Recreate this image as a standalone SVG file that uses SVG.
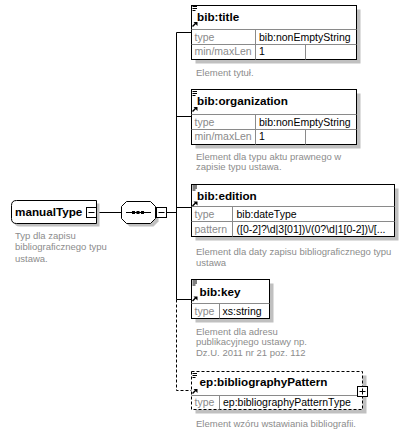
<svg xmlns="http://www.w3.org/2000/svg" width="407" height="432" viewBox="0 0 407 432">
  <defs>
    <style>
      text { font-family: "Liberation Sans", Arial, sans-serif; }
      .name { font-size: 11.7px; font-weight: bold; fill: #000; }
      .lbl { font-size: 10.5px; fill: #8a8a8a; }
      .val { font-size: 10.5px; fill: #000; }
      .doc { font-size: 9.5px; fill: #8c8c8c; }
      .box { fill: #fff; stroke: #000; stroke-width: 1; }
      .dbox { fill: #fff; stroke: #000; stroke-width: 1; stroke-dasharray: 3 2; }
      .shadow { fill: #c0c0c0; }
      .grid { stroke: #8a8a8a; stroke-width: 1; fill: none; }
      .conn { stroke: #000; stroke-width: 1; fill: none; }
      .dash { stroke: #000; stroke-width: 1; fill: none; stroke-dasharray: 3 2; }
      .tog { fill: #fff; stroke: #000; stroke-width: 1; }
    </style>
    <!-- element icons: annotation lines and global-reference arrow -->
    <g id="elemIcons">
      <path d="M1.5,1.5 H6 M1.5,3.5 H6 M1.5,5.5 H4.5" stroke="#000" stroke-width="1" fill="none"/>
      <path d="M1.5,21.5 L5,18" stroke="#000" stroke-width="1.5" fill="none"/>
      <path d="M2.5,17 H6.5 V21 Z" fill="#000"/>
    </g>
  </defs>

  <!-- connectors -->
  <g id="connectors">
    <path class="conn" d="M96.5,212.5 H121.5"/>
    <path class="conn" d="M166.5,212.5 H176.5"/>
    <path class="conn" d="M176.5,32.5 V299.5"/>
    <path class="conn" d="M176.5,32.5 H191.5"/>
    <path class="conn" d="M176.5,116.5 H191.5"/>
    <path class="conn" d="M176.5,207.5 H191.5"/>
    <path class="conn" d="M176.5,299.5 H191.5"/>
    <path class="dash" d="M176.5,299.5 V390.5 H191.5"/>
  </g>

  <!-- complex type -->
  <g id="manualType">
    <path class="shadow" d="M19.5,203.5 H99.5 V226.5 H19.5 Q14.5,226.5 14.5,221.5 V208.5 Q14.5,203.5 19.5,203.5 Z"/>
    <path class="box" d="M16.5,200.5 H96.5 V223.5 H16.5 Q11.5,223.5 11.5,218.5 V205.5 Q11.5,200.5 16.5,200.5 Z"/>
    <text class="name" x="15" y="216">manualType</text>
    <rect class="tog" x="86.5" y="207.5" width="10" height="10"/>
    <path class="conn" d="M88.5,212.5 H94.5"/>
    <text class="doc" x="15" y="238.5">Typ dla zapisu</text>
    <text class="doc" x="15" y="250">bibliograficznego typu</text>
    <text class="doc" x="15" y="261.5">ustawa.</text>
  </g>

  <!-- sequence compositor -->
  <g id="sequence">
    <path class="shadow" d="M129.5,204.5 H153.5 L158.5,209.5 V221.5 L153.5,226.5 H129.5 L124.5,221.5 V209.5 Z"/>
    <path class="box" d="M126.5,201.5 H150.5 L155.5,206.5 V218.5 L150.5,223.5 H126.5 L121.5,218.5 V206.5 Z"/>
    <path class="conn" d="M126,212.5 H151"/>
    <rect x="132" y="211" width="3" height="3" fill="#000"/>
    <rect x="136.5" y="211" width="3" height="3" fill="#000"/>
    <rect x="141" y="211" width="3" height="3" fill="#000"/>
    <rect class="tog" x="156.5" y="207.5" width="10" height="10"/>
    <path class="conn" d="M158.5,212.5 H164.5"/>
  </g>

  <!-- bib:title -->
  <g id="bib-title">
    <rect class="shadow" x="195.5" y="9.5" width="165" height="54"/>
    <rect class="box" x="191.5" y="5.5" width="165" height="54"/>
    <path class="grid" d="M191.5,29.5 H356.5 M191.5,44.5 H356.5 M255.5,29.5 V59.5 M305.5,44.5 V59.5"/>
    <use href="#elemIcons" x="191" y="5"/>
    <text class="name" x="197" y="21">bib:title</text>
    <text class="lbl" x="194.5" y="40.5">type</text>
    <text class="val" x="259" y="40.5">bib:nonEmptyString</text>
    <text class="lbl" x="194.5" y="55">min/maxLen</text>
    <text class="val" x="259" y="55">1</text>
    <text class="doc" x="196" y="75.5">Element tytuł.</text>
  </g>

  <!-- bib:organization -->
  <g id="bib-organization">
    <rect class="shadow" x="195.5" y="93.5" width="165" height="55"/>
    <rect class="box" x="191.5" y="89.5" width="165" height="55"/>
    <path class="grid" d="M191.5,114.5 H356.5 M191.5,129.5 H356.5 M255.5,114.5 V144.5 M305.5,129.5 V144.5"/>
    <use href="#elemIcons" x="191" y="90"/>
    <text class="name" x="197" y="105">bib:organization</text>
    <text class="lbl" x="194.5" y="125.5">type</text>
    <text class="val" x="259" y="125.5">bib:nonEmptyString</text>
    <text class="lbl" x="194.5" y="140">min/maxLen</text>
    <text class="val" x="259" y="140">1</text>
    <text class="doc" x="196" y="159.5">Element dla typu aktu prawnego w</text>
    <text class="doc" x="196" y="170">zapisie typu ustawa.</text>
  </g>

  <!-- bib:edition -->
  <g id="bib-edition">
    <rect class="shadow" x="195.5" y="188.5" width="203" height="52"/>
    <rect class="box" x="191.5" y="184.5" width="203" height="52"/>
    <path class="grid" d="M191.5,206.5 H394.5 M191.5,221.5 H394.5 M232.5,206.5 V236.5"/>
    <use href="#elemIcons" x="191" y="184.5"/>
    <text class="name" x="197" y="199.5">bib:edition</text>
    <text class="lbl" x="194.5" y="218">type</text>
    <text class="val" x="236.5" y="218">bib:dateType</text>
    <text class="lbl" x="194.5" y="233">pattern</text>
    <text class="val" x="236.5" y="233">([0-2]?\d|3[01])\/(0?\d|1[0-2])\/[...</text>
    <text class="doc" x="196" y="254.5">Element dla daty zapisu bibliograficznego typu</text>
    <text class="doc" x="196" y="265.5">ustawa</text>
  </g>

  <!-- bib:key -->
  <g id="bib-key">
    <rect class="shadow" x="195.5" y="283.5" width="78" height="39"/>
    <rect class="box" x="191.5" y="279.5" width="78" height="39"/>
    <path class="grid" d="M191.5,303.5 H269.5 M219.5,303.5 V318.5"/>
    <use href="#elemIcons" x="191" y="279.5"/>
    <text class="name" x="199.5" y="295.5">bib:key</text>
    <text class="lbl" x="194.5" y="314.5">type</text>
    <text class="val" x="222.5" y="314.5">xs:string</text>
    <text class="doc" x="196" y="334.5">Element dla adresu</text>
    <text class="doc" x="196" y="345">publikacyjnego ustawy np.</text>
    <text class="doc" x="196" y="355.5">Dz.U. 2011 nr 21 poz. 112</text>
  </g>

  <!-- ep:bibliographyPattern (optional) -->
  <g id="ep-bibliographyPattern">
    <rect class="shadow" x="195.5" y="375.5" width="171" height="38"/>
    <rect class="dbox" x="191.5" y="371.5" width="171" height="38"/>
    <path class="grid" d="M191.5,395.5 H362.5 M219.5,395.5 V409.5"/>
    <use href="#elemIcons" x="191" y="372"/>
    <text class="name" x="199.5" y="386">ep:bibliographyPattern</text>
    <text class="lbl" x="194.5" y="406">type</text>
    <text class="val" x="223" y="406">ep:bibliographyPatternType</text>
    <rect class="tog" x="357.5" y="386.5" width="10" height="10" stroke-width="1.3"/>
    <path class="conn" d="M359.5,391.5 H365.5 M362.5,388.5 V394.5"/>
    <text class="doc" x="196" y="426.5">Element wzóru wstawiania bibliografii.</text>
  </g>
</svg>
